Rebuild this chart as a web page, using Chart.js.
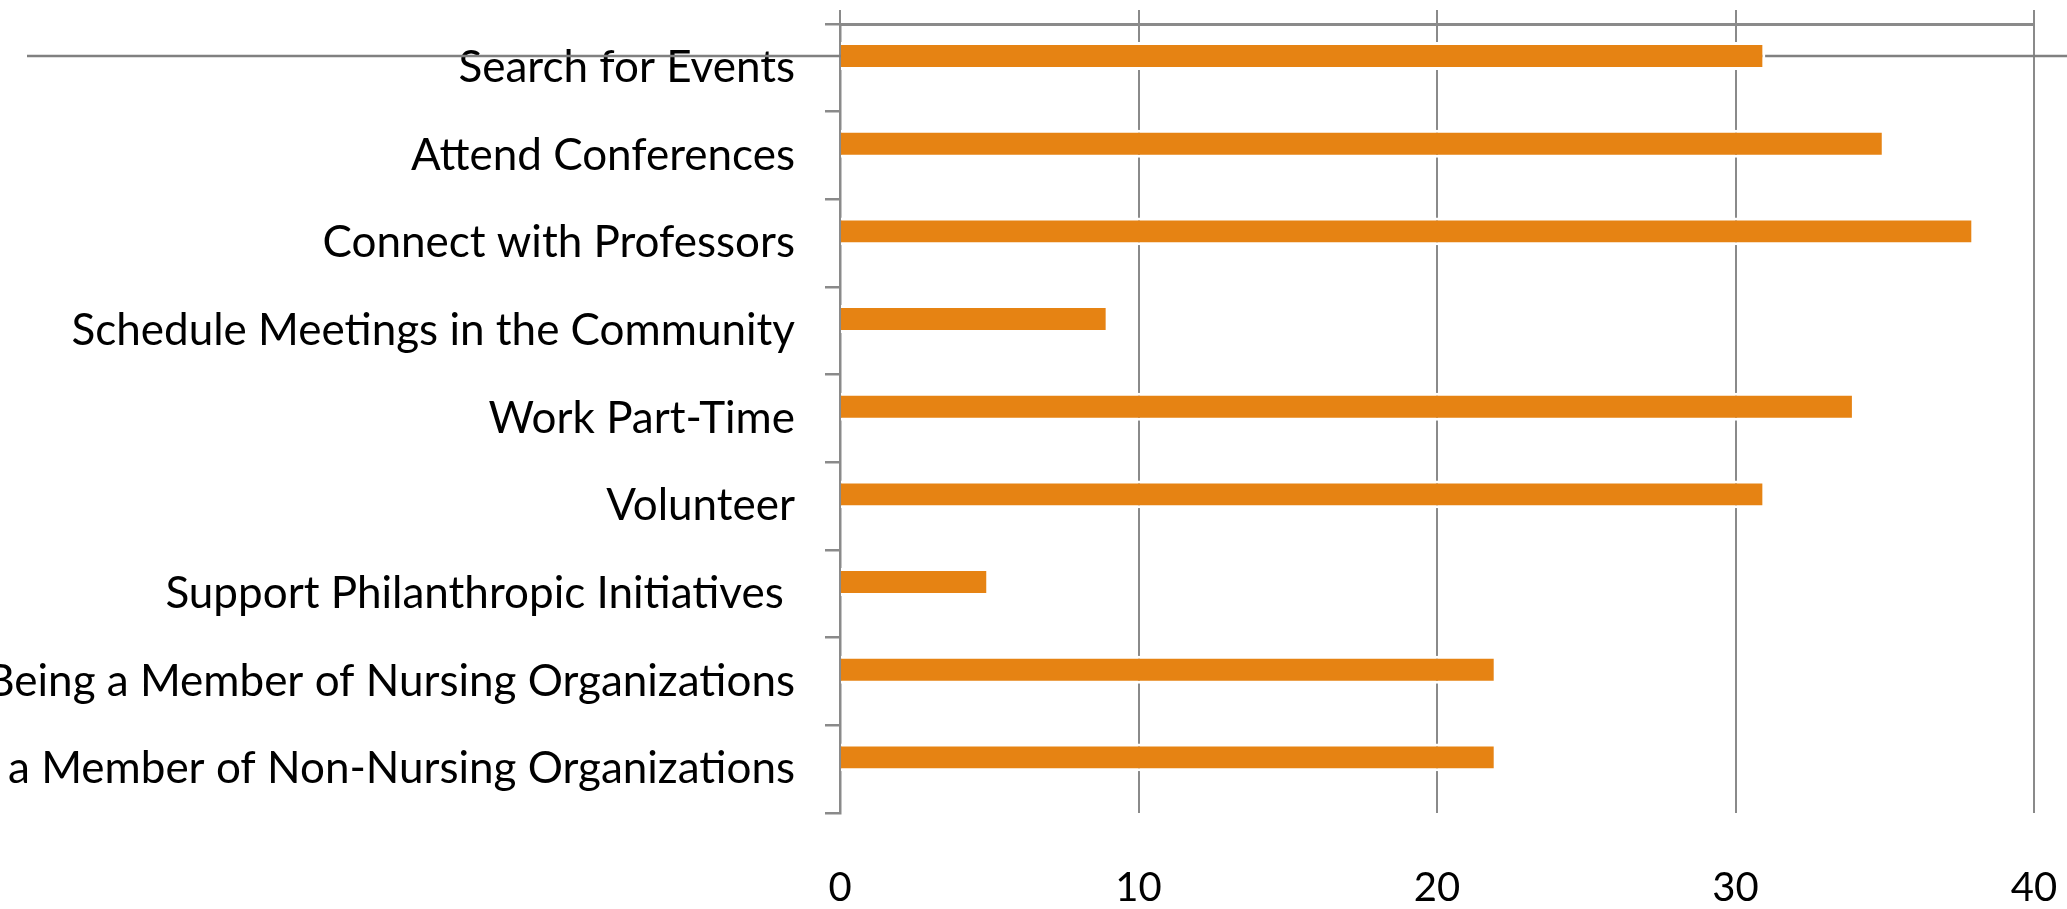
<!DOCTYPE html>
<html>
<head>
<meta charset="utf-8">
<script src="https://cdn.jsdelivr.net/npm/chart.js@4.4.1/dist/chart.umd.min.js"></script>
<style>
  html, body { margin: 0; padding: 0; background: #ffffff; }
  #wrap { width: 2067px; height: 909px; position: relative; }
</style>
</head>
<body>
<div id="wrap"><canvas id="c"></canvas></div>
<script>
const categories = [
  "Search for Events",
  "Attend Conferences",
  "Connect with Professors",
  "Schedule Meetings in the Community",
  "Work Part-Time",
  "Volunteer",
  "Support Philanthropic Initiatives ",
  "Being a Member of Nursing Organizations",
  "Being a Member of Non-Nursing Organizations"
];
const values = [31, 35, 38, 9, 34, 31, 5, 22, 22];
const emptySlot = [null, null, null, null, null, null, null, null, null];
const xTicks = [0, 10, 20, 30, 40];

const FONT = "Lato, 'Open Sans', sans-serif";
const GRAY = '#8a8a8a';

const refLine = {
  id: 'refLine',
  beforeDatasetsDraw(chart) {
    const el = chart.getDatasetMeta(0).data[0];
    if (!el) return;
    const c = chart.ctx;
    c.save();
    c.strokeStyle = '#808080';
    c.lineWidth = 2.5;
    c.beginPath();
    c.moveTo(27, el.y);
    c.lineTo(chart.width, el.y);
    c.stroke();
    c.restore();
  }
};

function noPad(scale) {
  scale.paddingTop = 0;
  scale.paddingBottom = 0;
  scale.paddingLeft = 0;
  scale.paddingRight = 0;
}

new Chart(document.getElementById('c'), {
  type: 'bar',
  data: {
    labels: categories,
    datasets: [
      {
        data: values,
        backgroundColor: '#E68313',
        borderColor: '#ffffff',
        borderWidth: 3,
        borderSkipped: 'start',
        categoryPercentage: 0.538,
        barPercentage: 1.186
      },
      {
        data: emptySlot,
        backgroundColor: 'rgba(0,0,0,0)',
        categoryPercentage: 0.538,
        barPercentage: 1.186
      }
    ]
  },
  options: {
    indexAxis: 'y',
    responsive: true,
    maintainAspectRatio: false,
    animation: false,
    layout: { padding: { top: 10, right: 33, left: 0, bottom: 0 } },
    plugins: { legend: { display: false }, tooltip: { enabled: false } },
    scales: {
      x: {
        position: 'bottom',
        min: 0, max: 40,
        afterBuildTicks(scale) { scale.ticks = xTicks.map(v => ({ value: v })); },
        ticks: { font: { family: FONT, size: 40 }, color: '#000', padding: 51, maxRotation: 0 },
        grid: { drawOnChartArea: true, drawTicks: false, color: GRAY, lineWidth: 2 },
        border: { display: false },
        afterFit(scale) { scale.height = 96; noPad(scale); }
      },
      x2: {
        position: 'top',
        axis: 'x',
        min: 0, max: 40,
        afterBuildTicks(scale) { scale.ticks = xTicks.map(v => ({ value: v })); },
        ticks: { display: false },
        grid: { drawOnChartArea: false, drawTicks: true, tickLength: 14, color: GRAY, lineWidth: 2 },
        border: { display: true, color: GRAY, width: 3 },
        afterFit(scale) { scale.height = 14; noPad(scale); }
      },
      y: {
        ticks: { font: { family: FONT, size: 44 }, color: '#000', padding: 30, autoSkip: false },
        grid: { drawOnChartArea: false, drawTicks: true, tickLength: 15, color: GRAY, lineWidth: 2.5, offset: true },
        border: { display: true, color: GRAY, width: 2.5 },
        afterFit(scale) { scale.width = 840; noPad(scale); }
      }
    }
  },
  plugins: [refLine]
});
</script>
</body>
</html>
